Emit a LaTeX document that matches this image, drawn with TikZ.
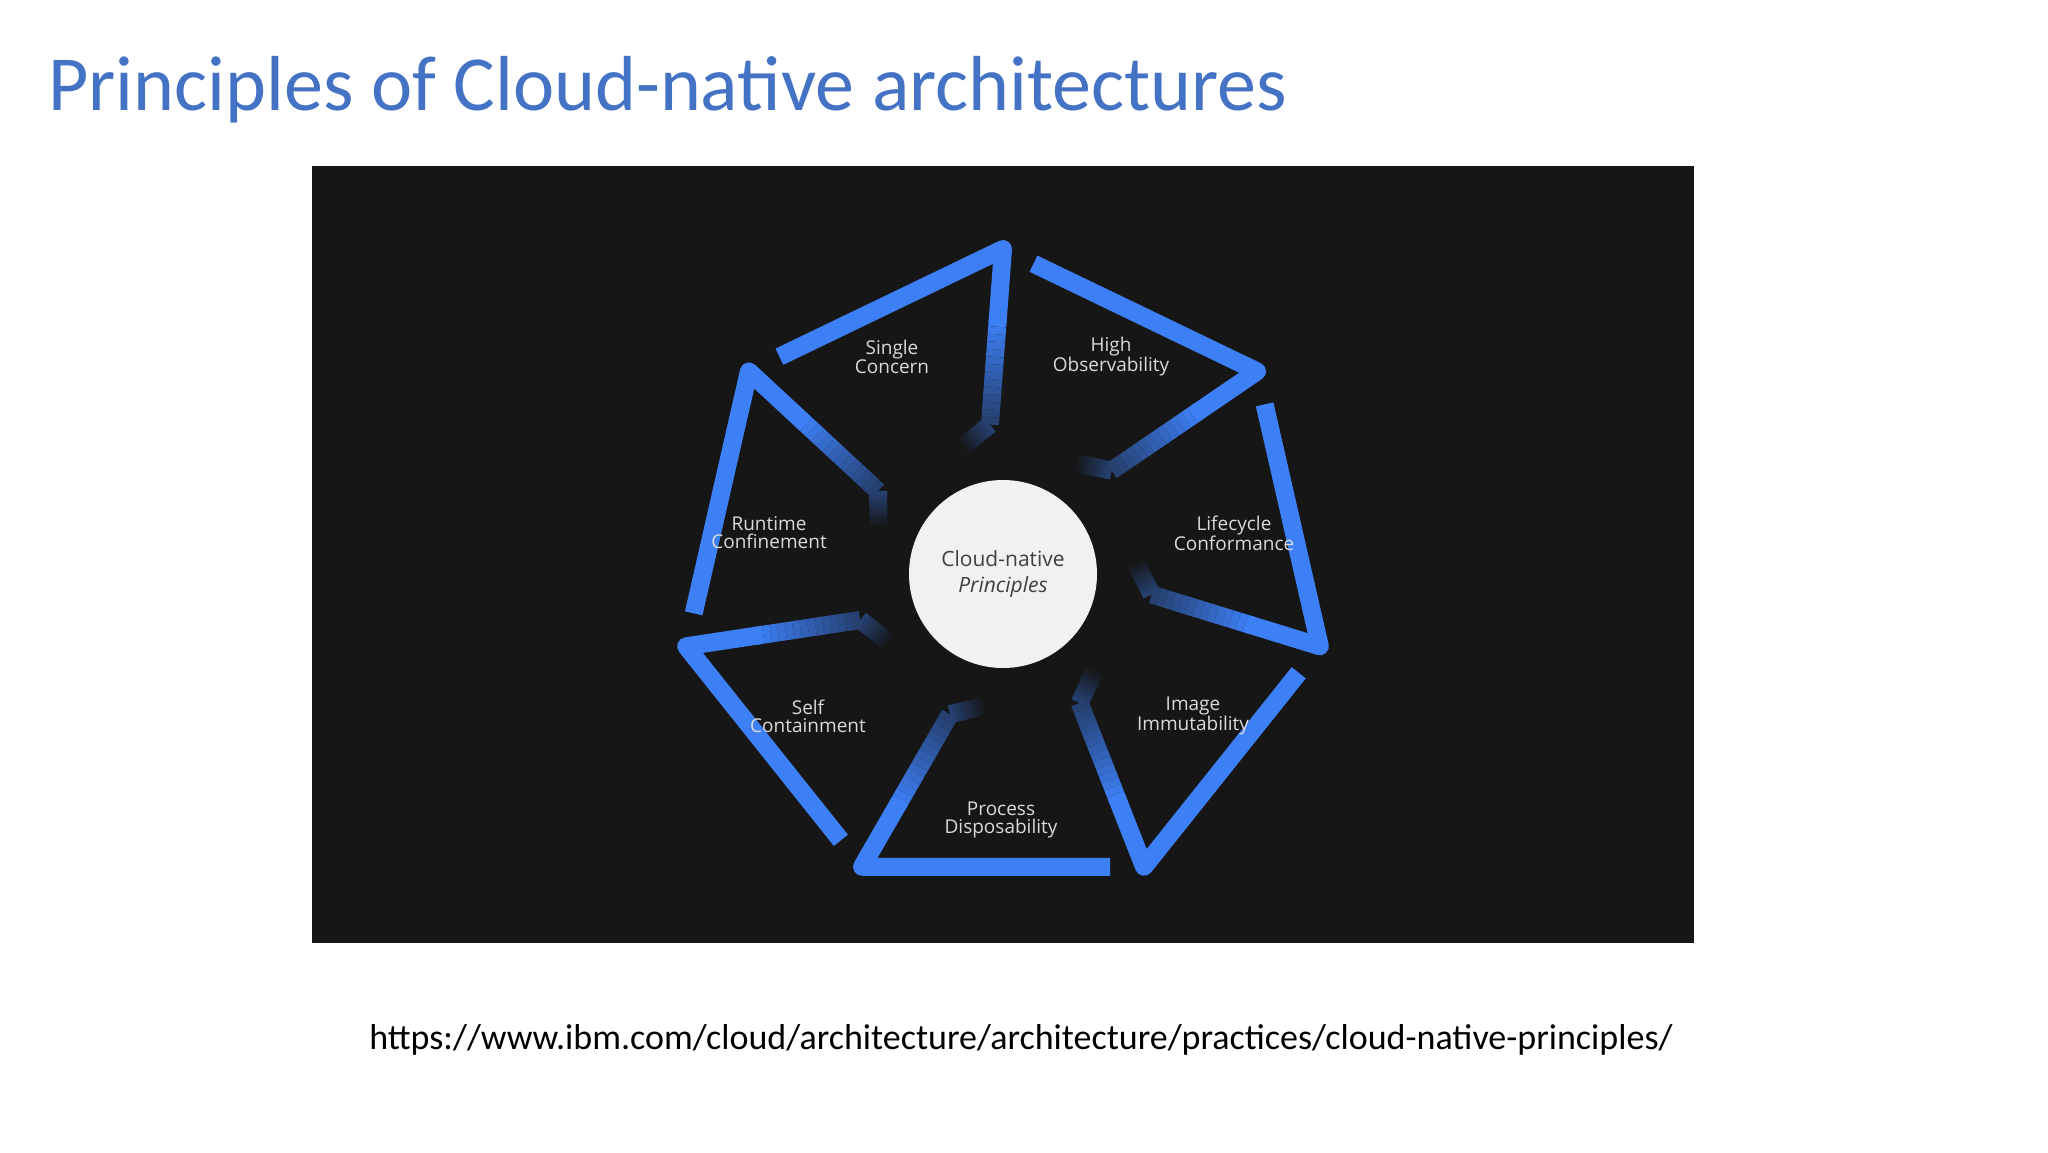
\documentclass[tikz,border=0pt]{standalone}
\usepackage{fontspec}
\setmainfont{Carlito}
\newfontfamily\lblfont{Open Sans}
\usetikzlibrary{calc}
\definecolor{bgdark}{HTML}{161616}
\definecolor{segblue}{HTML}{3D7FF5}
\definecolor{titleblue}{HTML}{4472C4}
\definecolor{lbl}{HTML}{DADADA}
\definecolor{disc}{HTML}{F1F0F2}
\tikzset{
  seg/.style={line width=18pt, line join=round, line cap=round},
  lab/.style={font=\lblfont\fontsize{19}{18}\selectfont, text=lbl, align=center}
}
\begin{document}
\begin{tikzpicture}[x=1pt,y=1pt]
\fill[white] (0,0) rectangle (2048,-1152);
\useasboundingbox (0,0) rectangle (2048,-1152);
\node[anchor=base west, text=titleblue, font=\fontsize{78}{80}\selectfont, inner sep=0] (title) at (48,-110) {Principles of Cloud-native architectures};
\fill[bgdark] (312,-166) rectangle (1694,-943);
\coordinate (C) at (1003,-574);
\foreach \k in {0,...,6}{
  \pgfmathsetmacro\th{90-360/7*\k}
  \pgfmathsetmacro\thp{\th+360/7}
  \pgfmathsetmacro\thb{\th+5}
  \pgfmathsetmacro\thk{\th+19}
  \coordinate (V) at ($(C)+(\th:325pt)$);
  \coordinate (Vp) at ($(C)+(\thp:325pt)$);
  \coordinate (S) at ($(Vp)!0.12!(V)$);
  \coordinate (B) at ($(C)+(\thb:150pt)$);
  \coordinate (K) at ($(C)+(\thk:132pt)$);
  \draw[seg, segblue, line cap=butt] (S) -- (V) -- ($(V)!0.42!(B)$);
  \foreach \i in {0,...,13}{
    \pgfmathsetmacro\ta{0.4+0.6*\i/14}
    \pgfmathsetmacro\tb{0.4+0.6*(\i+1)/14}
    \pgfmathsetmacro\cc{100-60*\i/13}
    \draw[seg, line cap=butt, color=segblue!\cc!bgdark] ($(V)!\ta!(B)$) -- ($(V)!\tb!(B)$);
  }
  \foreach \i in {0,...,9}{
    \pgfmathsetmacro\ta{\i/10}
    \pgfmathsetmacro\tb{(\i+1)/10+0.02}
    \pgfmathsetmacro\cc{40-40*\i/9}
    \draw[seg, line cap=butt, color=segblue!\cc!bgdark] ($(B)!\ta!(K)$) -- ($(B)!\tb!(K)$);
  }
}
\fill[disc] (C) circle (94pt);
\node[font=\lblfont\fontsize{21}{26}\selectfont, text=black!75, align=center] (center) at (1003,-574) {Cloud-native\\\itshape Principles};
\node[lab] (sc) at (892,-357) {Single\\Concern};
\node[lab] (ho) at (1111,-357) {High\\Observability};
\node[lab] (lc) at (1234,-533) {Lifecycle\\Conformance};
\node[lab] (ii) at (1193,-716) {Image\\Immutability};
\node[lab] (pd) at (1001,-820) {Process\\Disposability};
\node[lab] (scn) at (808,-716) {Self\\Containment};
\node[lab] (rc) at (769,-533) {Runtime\\Confinement};
\node[anchor=base, font=\fontsize{36}{40}\selectfont, text=black, inner sep=0] (url) at (1021,-1049) {https://www.ibm.com/cloud/architecture/architecture/practices/cloud-native-principles/};
\end{tikzpicture}
\end{document}
